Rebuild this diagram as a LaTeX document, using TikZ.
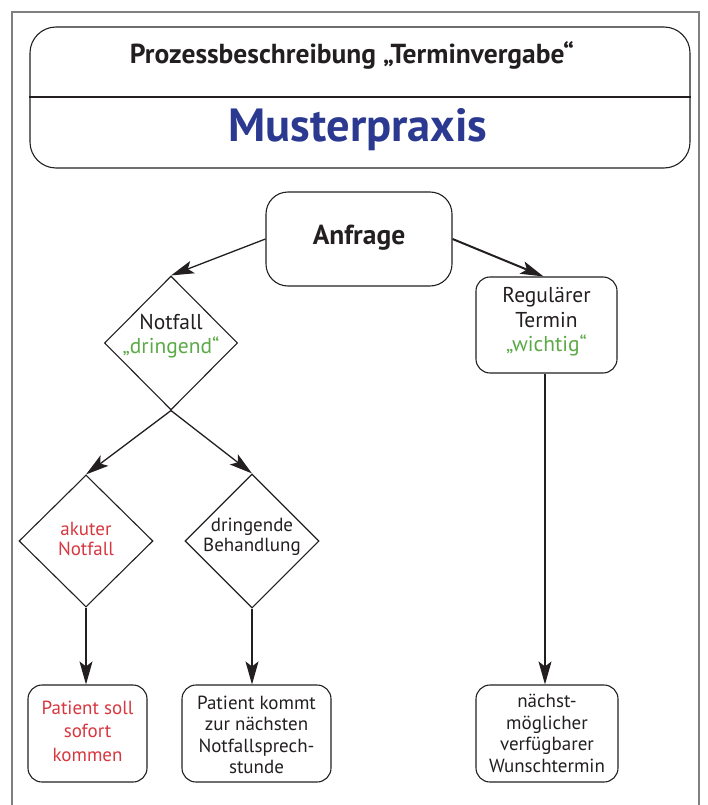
\documentclass[tikz,border=0pt]{standalone}
\usepackage{fontspec}
\setmainfont{PT Sans}
\usetikzlibrary{shapes.geometric,arrows.meta}
\definecolor{ink}{HTML}{231F20}
\definecolor{blu}{HTML}{2B3990}
\definecolor{grn}{HTML}{5BAA47}
\definecolor{rd}{HTML}{D7373F}
\definecolor{frm}{HTML}{808080}
\tikzset{
  box/.style={draw=ink, line width=1.1pt, rounded corners=14pt, inner sep=0pt},
  diam/.style={draw=ink, line width=1.1pt, diamond, inner sep=0pt},
  txt/.style={text=ink, align=center, inner sep=0pt, font=\fontsize{19}{21.5}\selectfont},
  arr/.style={draw=ink, line width=1.3pt, -{Stealth[length=23pt,width=13pt,inset=5pt]}},
}
\begin{document}
\begin{tikzpicture}[x=1pt,y=-1pt]
\useasboundingbox (0,0) rectangle (707,805);
% outer frame
\draw[frm, line width=1.5pt] (12,805) -- (12,12) -- (699,12) -- (699,805);
% header
\node[box, rounded corners=26pt, minimum width=660pt, minimum height=141pt] (hdr) at (360,97.5) {};
\coordinate (div) at (0,97);
\draw[ink, line width=1.1pt] (hdr.west |- div) -- (hdr.east |- div);
\node[txt, font=\fontsize{27.5}{30}\selectfont\bfseries] (t1) at (352,55) {Prozessbeschreibung „Terminvergabe“};
\node[txt, text=blu, font=\fontsize{46.5}{52}\selectfont\bfseries] (t2) at (358,130) {Musterpraxis};
% Anfrage
\node[box, rounded corners=22pt, minimum width=186pt, minimum height=94pt] (anf) at (359,239) {};
\node[txt, font=\fontsize{27.5}{30}\selectfont\bfseries] (anft) at (359,238) {Anfrage};
% Notfall diamond
\node[diam, minimum width=133pt, minimum height=134pt] (nf) at (171,343) {};
\node[txt, font=\fontsize{21.5}{24}\selectfont] (nft) at (171,336) {Notfall\\\textcolor{grn}{„dringend“}};
% akuter Notfall
\node[diam, minimum width=134pt, minimum height=132pt] (ak) at (86,541) {};
\node[txt, text=rd, font=\fontsize{19}{19.5}\selectfont] (akt) at (86,539) {akuter\\Notfall};
% dringende Behandlung
\node[diam, minimum width=134pt, minimum height=134pt] (dr) at (252,541) {};
\node[txt, font=\fontsize{19}{20}\selectfont] (drt) at (252,537) {dringende\\Behandlung};
% Regulaerer Termin
\node[box, minimum width=141pt, minimum height=96pt] (reg) at (546.5,325) {};
\node[txt, font=\fontsize{21.5}{24.5}\selectfont] (regt) at (546.5,322) {Regulärer\\Termin\\\textcolor{grn}{„wichtig“}};
% bottom boxes
\node[box, minimum width=119pt, minimum height=97pt] (ba) at (87.5,733.5) {};
\node[txt, text=rd, font=\fontsize{19}{23.5}\selectfont] (bat) at (87.5,731) {Patient soll\\sofort\\kommen};
\node[box, minimum width=149pt, minimum height=97pt] (bb) at (256.5,733.5) {};
\node[txt] (bbt) at (256.5,735) {Patient kommt\\zur nächsten\\Notfallsprech-\\stunde};
\node[box, minimum width=142pt, minimum height=97pt] (bc) at (547,733.5) {};
\node[txt] (bct) at (547,733.5) {nächst-\\möglicher\\verfügbarer\\Wunschtermin};
% connectors
\draw[arr] (anf.west) -- (nf.north);
\draw[arr, line width=2pt] (anf.east) -- ([xshift=-3pt]reg.north);
\draw[arr] (nf.south) -- (ak.north);
\draw[arr] (nf.south) -- (dr.north);
\draw[arr] (ak.south) -- (ak.south |- ba.north);
\draw[arr] (dr.south) -- (dr.south |- bb.north);
\draw[arr] ([xshift=-1.5pt]reg.south) -- ([xshift=-1.5pt]reg.south |- bc.north);
\end{tikzpicture}
\end{document}
